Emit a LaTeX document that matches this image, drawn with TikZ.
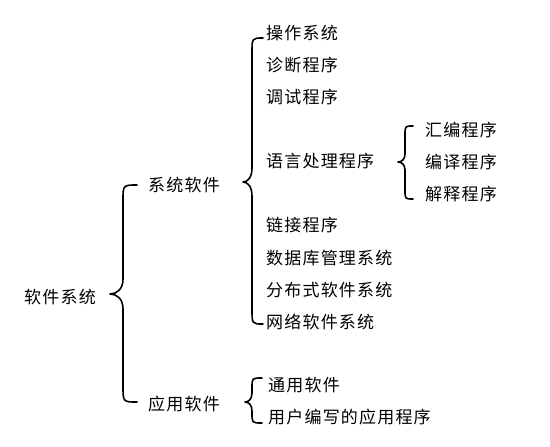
\documentclass[tikz,border=0pt]{standalone}
\usepackage{fontspec}
\newfontfamily\cjk{Noto Sans CJK SC}[LetterSpace=7]
\newcommand\mybrace[8]{%
  \draw[bracestyle] (#1,#4) .. controls (#2,#4) .. (#2,{#4+#7})
    -- (#2,{#5-#8}) .. controls (#2,{#5-0.3*#8}) and ({(#2+#3)/2},#5) .. (#3,#5)
    .. controls ({(#2+#3)/2},#5) and (#2,{#5+0.3*#8}) .. (#2,{#5+#8})
    -- (#2,{#6-#7}) .. controls (#2,#6) .. (#1,#6);}
\begin{document}
\begin{tikzpicture}[x=1pt,y=-1pt,
  lbl/.style={anchor=west,inner sep=0pt,font=\cjk\fontsize{17}{19}\selectfont},
  bracestyle/.style={draw=black,line width=1.6pt,line cap=round,line join=round}]
\useasboundingbox (0,0) rectangle (550,447);
\node[lbl] (root) at (24,297) {软件系统};
\node[lbl] (sys) at (148,185) {系统软件};
\node[lbl] (app) at (148,404) {应用软件};
\node[lbl] (s1) at (266,33) {操作系统};
\node[lbl] (s2) at (266,65) {诊断程序};
\node[lbl] (s3) at (266,97) {调试程序};
\node[lbl] (s4) at (266,161) {语言处理程序};
\node[lbl] (s5) at (266,225) {链接程序};
\node[lbl] (s6) at (266,258) {数据库管理系统};
\node[lbl] (s7) at (266,290) {分布式软件系统};
\node[lbl] (s8) at (266,322) {网络软件系统};
\node[lbl] (l1) at (425,130) {汇编程序};
\node[lbl] (l2) at (425,162) {编译程序};
\node[lbl] (l3) at (425,194) {解释程序};
\node[lbl] (a1) at (268,385) {通用软件};
\node[lbl] (a2) at (268,417) {用户编写的应用程序};
\mybrace{137}{123}{110}{185}{294}{402}{16}{15}
\mybrace{263}{252}{243}{38}{182}{324}{15}{14}
\mybrace{413}{405}{398}{126}{162}{199}{9}{8}
\mybrace{262}{252}{245}{378}{402}{423}{10}{9}
\end{tikzpicture}
\end{document}
